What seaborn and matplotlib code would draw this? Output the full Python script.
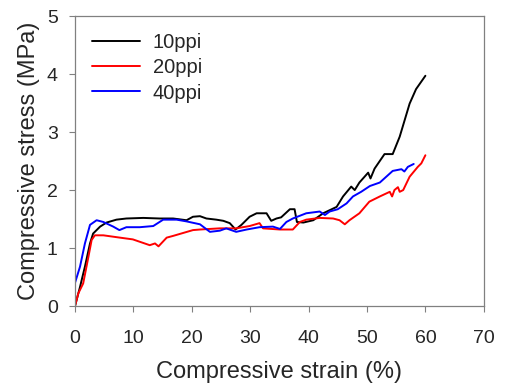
import numpy as np
import pandas as pd
import matplotlib
matplotlib.use("Agg")
import matplotlib.pyplot as plt
import seaborn as sns

# 10ppi
strain_10 = [0, 0.86, 1.7, 2.57, 3.1, 4.3, 5.4, 7.1, 8.8, 11.7, 14.5, 16.8, 19.1, 20.2, 21.4, 22.5,
             24.2, 25.4, 26.5, 27.5, 28.5, 29.9, 31.1, 32.8, 33.6, 34.5, 35.3, 36.8, 37.6, 38.0,
             39.1, 40.8, 42.5, 44.8, 45.9, 47.3, 47.9, 48.7, 50.2, 50.6, 51.3, 53.0, 54.4, 55.6,
             57.3, 58.4, 60.0]
stress_10 = [0, 0.33, 0.68, 1.08, 1.25, 1.37, 1.44, 1.49, 1.51, 1.52, 1.51, 1.51, 1.48, 1.54, 1.55, 1.51,
             1.49, 1.47, 1.43, 1.32, 1.40, 1.54, 1.60, 1.60, 1.47, 1.51, 1.53, 1.67, 1.67, 1.45,
             1.44, 1.48, 1.60, 1.71, 1.89, 2.06, 2.00, 2.13, 2.30, 2.20, 2.37, 2.62, 2.62, 2.92,
             3.49, 3.74, 3.97]

# 20ppi
strain_20 = [0, 0.57, 1.4, 2.3, 2.85, 3.4, 4.85, 7.7, 9.9, 12.8, 13.7, 14.3, 15.7, 16.8, 20.2, 21.4,
             24.8, 27.6, 29.9, 31.6, 32.2, 35.1, 37.3, 38.5, 39.6, 41.9, 44.2, 45.3, 46.2, 47.0,
             48.7, 50.4, 52.2, 53.9, 54.3, 54.7, 55.3, 55.6, 56.2, 57.3, 58.7, 59.3, 60.0]
stress_20 = [0, 0.22, 0.39, 0.85, 1.14, 1.22, 1.22, 1.18, 1.15, 1.05, 1.08, 1.03, 1.18, 1.21, 1.31, 1.32,
             1.34, 1.34, 1.38, 1.43, 1.34, 1.32, 1.32, 1.45, 1.49, 1.52, 1.51, 1.48, 1.41, 1.48,
             1.60, 1.80, 1.89, 1.97, 1.89, 2.00, 2.05, 1.97, 2.00, 2.23, 2.40, 2.46, 2.60]

# 40ppi
strain_40 = [0, 0.86, 1.7, 2.57, 3.7, 4.85, 6.55, 7.6, 8.8, 11.1, 13.4, 15.1, 17.4, 19.1, 21.4, 23.1,
             24.8, 25.9, 27.6, 29.4, 31.6, 33.9, 35.1, 36.2, 37.3, 39.6, 41.9, 42.8, 43.6, 45.0,
             46.5, 47.6, 49.0, 50.5, 52.2, 54.4, 55.9, 56.4, 57.0, 58.0]
stress_40 = [0.40, 0.68, 1.08, 1.40, 1.48, 1.45, 1.37, 1.31, 1.36, 1.36, 1.38, 1.49, 1.49, 1.46, 1.41, 1.28,
             1.30, 1.34, 1.28, 1.32, 1.36, 1.37, 1.33, 1.45, 1.51, 1.60, 1.63, 1.57, 1.63, 1.67,
             1.77, 1.89, 1.97, 2.07, 2.13, 2.33, 2.36, 2.32, 2.40, 2.45]

labels = ["10ppi", "20ppi", "40ppi"]
colors = ["#000000", "#ff0000", "#0000ff"]

frames = []
for lab, xs, ys in zip(labels, [strain_10, strain_20, strain_40], [stress_10, stress_20, stress_40]):
    frames.append(pd.DataFrame({"strain": xs, "stress": ys, "sample": lab}))
df = pd.concat(frames, ignore_index=True)

sns.set_style("white")
plt.rcParams["font.family"] = ["Liberation Sans", "DejaVu Sans"]

fig = plt.figure(figsize=(5.05, 3.86), dpi=100)
ax = fig.add_axes([0.1485, 0.207, 0.8095, 0.7515])

sns.lineplot(data=df, x="strain", y="stress", hue="sample", palette=colors, sort=False,
             estimator=None, linewidth=1.4, ax=ax)

ax.set_xlim(0, 70)
ax.set_ylim(0, 5)
ax.set_xticks(range(0, 71, 10))
ax.set_yticks(range(0, 6))
ax.set_xlabel("Compressive strain (%)", fontsize=17, labelpad=10)
ax.set_ylabel("Compressive stress (MPa)", fontsize=17, labelpad=5)
ax.tick_params(axis="both", direction="out", length=4, width=0.8, color="#808080",
               labelsize=14, bottom=True, left=True)
ax.tick_params(axis="x", pad=13)
ax.tick_params(axis="y", pad=8.5)
for sp in ax.spines.values():
    sp.set_color("#808080")
    sp.set_linewidth(0.9)

leg = ax.legend(loc="upper left", bbox_to_anchor=(0.042, 0.94), frameon=False, fontsize=14.5,
                handlelength=2.4, handletextpad=0.6, labelspacing=0.3, borderaxespad=0,
                borderpad=0)

fig.savefig("out.png", dpi=100)
